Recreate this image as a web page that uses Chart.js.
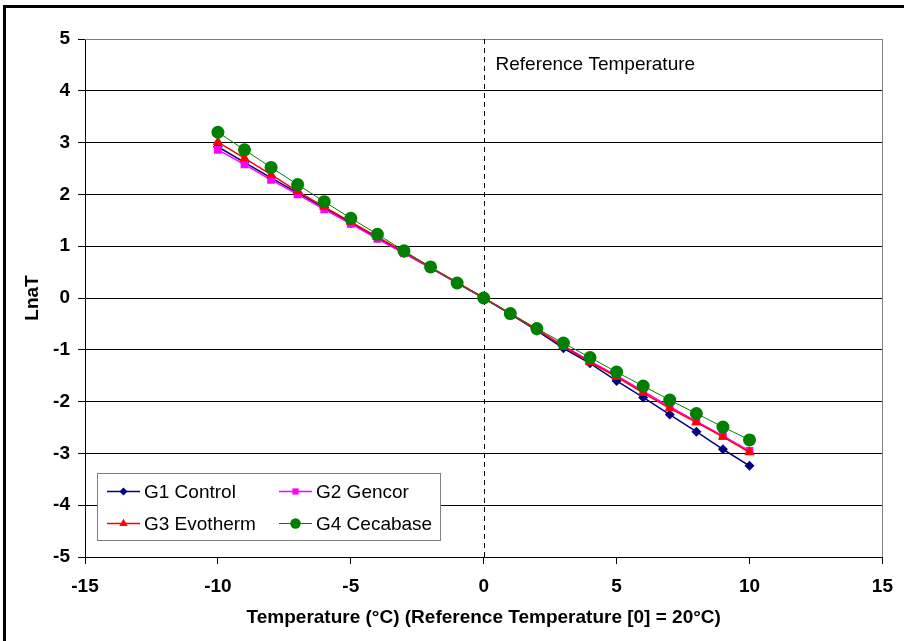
<!DOCTYPE html>
<html><head><meta charset="utf-8">
<script src="https://cdn.jsdelivr.net/npm/chart.js@4"></script>
<style>
html,body{margin:0;padding:0;background:#fff;overflow:hidden;}
#wrap{position:absolute;left:0;top:0;width:904px;height:641px;}
#frame{position:absolute;left:3px;top:5px;width:910px;height:650px;border:3px solid #000;box-sizing:border-box;pointer-events:none;}
</style></head>
<body>
<div id="wrap"><canvas id="c" width="904" height="641"></canvas></div>
<div id="frame"></div>
<script>
const temps = [-10,-9,-8,-7,-6,-5,-4,-3,-2,-1,0,1,2,3,4,5,6,7,8,9,10];
const g1Control  = [2.92,2.62,2.32,2.03,1.74,1.45,1.16,0.87,0.58,0.29,0,-0.31,-0.63,-0.97,-1.26,-1.60,-1.92,-2.25,-2.58,-2.92,-3.24];
const g2Gencor   = [2.86,2.58,2.28,2.00,1.71,1.43,1.14,0.86,0.58,0.29,0,-0.30,-0.61,-0.92,-1.22,-1.50,-1.80,-2.10,-2.38,-2.66,-2.95];
const g3Evotherm = [3.01,2.70,2.38,2.06,1.76,1.47,1.18,0.89,0.59,0.30,0,-0.30,-0.61,-0.93,-1.24,-1.52,-1.83,-2.13,-2.40,-2.68,-2.98];
const g4Cecabase = [3.20,2.86,2.52,2.19,1.86,1.54,1.23,0.91,0.60,0.29,0,-0.30,-0.59,-0.87,-1.15,-1.43,-1.70,-1.97,-2.23,-2.49,-2.74];
const seriesNames = ['G1 Control','G2 Gencor','G3 Evotherm','G4 Cecabase'];
const xTitle = 'Temperature (°C) (Reference Temperature [0] = 20°C)';
const yTitle = 'LnaT';
const refLabel = 'Reference Temperature';
const refX = 0;

const FONT = '"Liberation Sans", Arial, sans-serif';

function pts(ys){ return temps.map((x,i)=>({x:x,y:ys[i]})); }

const styles = [
  {color:'#000080', style:'rectRot', r:5, bw:1.5, order:3},
  {color:'#FF00FF', style:'rect', r:5.5, bw:1.5, order:2},
  {color:'#FF0000', style:'triangle', r:6, bw:1.5, order:1},
  {color:'#008000', style:'circle', r:6.5, bw:1, order:0}
];
const allData = [g1Control,g2Gencor,g3Evotherm,g4Cecabase];

const datasets = allData.map((d,i)=>({
  label: seriesNames[i],
  data: pts(d),
  showLine: true,
  borderColor: styles[i].color,
  backgroundColor: styles[i].color,
  borderWidth: styles[i].bw,
  pointStyle: styles[i].style,
  pointRadius: styles[i].r,
  pointBorderWidth: 0,
  pointBackgroundColor: styles[i].color,
  pointBorderColor: styles[i].color,
  order: styles[i].order
}));

const overlay = {
  id:'overlay',
  beforeDatasetsDraw(chart){
    const {ctx, chartArea:a, scales:{x,y}} = chart;
    ctx.save();
    ctx.strokeStyle='#808080'; ctx.lineWidth=1;
    ctx.beginPath();
    ctx.moveTo(a.left, Math.round(a.top)+0.5); ctx.lineTo(Math.round(a.right)+0.5, Math.round(a.top)+0.5);
    ctx.lineTo(Math.round(a.right)+0.5, a.bottom);
    ctx.stroke();
    const px = Math.round(x.getPixelForValue(refX))+0.5;
    ctx.strokeStyle='#000'; ctx.setLineDash([5,4]); ctx.lineWidth=1;
    ctx.beginPath(); ctx.moveTo(px,a.top); ctx.lineTo(px,a.bottom); ctx.stroke();
    ctx.setLineDash([]);
    ctx.fillStyle='#000'; ctx.font='19px '+FONT;
    ctx.textBaseline='middle'; ctx.textAlign='left';
    ctx.fillText(refLabel, px+11, 65);
    ctx.restore();
  },
  afterDatasetsDraw(chart){
    const {ctx} = chart;
    ctx.save();
    const bx=97.5, by=473.5, bw=343, bh=67;
    ctx.fillStyle='#fff'; ctx.fillRect(bx,by,bw,bh);
    ctx.strokeStyle='#808080'; ctx.lineWidth=1; ctx.strokeRect(bx,by,bw,bh);
    const cols=[107,279], rows=[491,523];
    ctx.font='19px '+FONT;
    ctx.textBaseline='middle'; ctx.textAlign='left';
    chart.data.datasets.forEach((ds,i)=>{
      const cx = cols[i%2], cy = rows[Math.floor(i/2)];
      ctx.strokeStyle=ds.borderColor; ctx.lineWidth=ds.borderWidth;
      ctx.beginPath(); ctx.moveTo(cx,cy+0.5); ctx.lineTo(cx+33,cy+0.5); ctx.stroke();
      ctx.fillStyle=ds.borderColor;
      Chart.helpers.drawPoint(ctx,{pointStyle:ds.pointStyle,radius:ds.pointRadius*0.8,borderWidth:0,rotation:0},cx+16.5,cy+0.5);
      ctx.fillStyle='#000';
      ctx.fillText(ds.label, cx+37, cy+1.5);
    });
    ctx.restore();
  }
};

new Chart(document.getElementById('c'),{
  type:'scatter',
  data:{datasets},
  options:{
    responsive:false, animation:false,
    layout:{padding:{top:39,right:20,left:0,bottom:0}},
    plugins:{legend:{display:false},tooltip:{enabled:false}},
    scales:{
      x:{
        type:'linear', min:-15, max:15,
        afterFit(s){ s.height = 641-39-518; },
        ticks:{stepSize:5, color:'#000', font:{family:FONT, size:19, weight:'bold'}, padding:11},
        grid:{drawOnChartArea:false, drawTicks:true, tickLength:7, color:'#000', lineWidth:1},
        border:{color:'#000', width:1},
        title:{display:true, text:xTitle, color:'#000', font:{family:FONT, size:19, weight:'bold'}, padding:{top:0,bottom:12}}
      },
      y:{
        type:'linear', min:-5, max:5,
        afterFit(s){ s.width = 85; },
        ticks:{stepSize:1, color:'#000', font:{family:FONT, size:19, weight:'bold'}, padding:8},
        grid:{drawOnChartArea:true, drawTicks:true, tickLength:7, color:'#000', lineWidth:1},
        border:{color:'#000', width:1},
        title:{display:true, text:yTitle, color:'#000', font:{family:FONT, size:19, weight:'bold'}, padding:{top:21,bottom:0}}
      }
    }
  },
  plugins:[overlay]
});
</script>
</body></html>
